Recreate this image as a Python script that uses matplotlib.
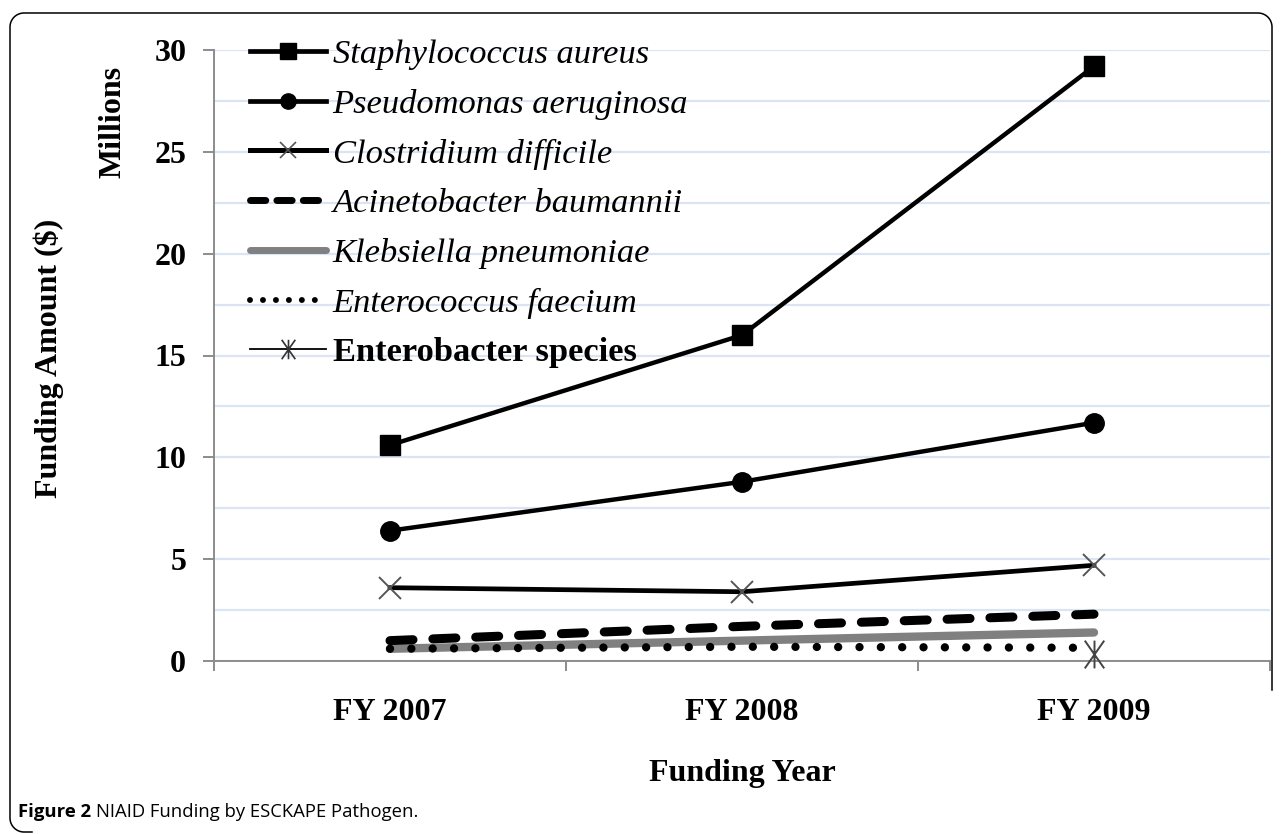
import numpy as np
import matplotlib.pyplot as plt
from matplotlib.lines import Line2D
from matplotlib.path import Path

# funding in millions of dollars
years = ['FY 2007', 'FY 2008', 'FY 2009']
staph = [10.6, 16.0, 29.2]
pseudo = [6.4, 8.8, 11.7]
clost = [3.6, 3.4, 4.7]
acin = [1.0, 1.7, 2.3]
kleb = [0.6, 1.0, 1.4]
entero = [0.6, 0.7, 0.65]
enterob = [np.nan, np.nan, 0.35]

names = ['Staphylococcus aureus', 'Pseudomonas aeruginosa', 'Clostridium difficile',
         'Acinetobacter baumannii', 'Klebsiella pneumoniae', 'Enterococcus faecium',
         'Enterobacter species']

serif = 'Liberation Serif'
plt.rcParams['font.family'] = serif

# Excel-style asterisk: an X with a vertical bar through it
star = Path([(-0.7, -1), (0.7, 1), (-0.7, 1), (0.7, -1), (0, -1), (0, 1)],
            [Path.MOVETO, Path.LINETO, Path.MOVETO, Path.LINETO, Path.MOVETO, Path.LINETO])

W, H = 1282, 834
fig = plt.figure(figsize=(W / 100, H / 100), dpi=100)
ax = fig.add_axes([214 / W, 1 - 661 / H, (1270 - 214) / W, (661 - 50) / H])

x = np.arange(len(years)) + 0.5

ax.plot(x, staph, color='black', lw=3.2, marker='s', ms=14.5, clip_on=False, zorder=5)
ax.plot(x, pseudo, color='black', lw=3.2, marker='o', ms=14, clip_on=False, zorder=5)
ax.plot(x, clost, color='black', lw=3.4, marker='x', ms=16, mec='#555555', mew=1.4,
        clip_on=False, zorder=5)
ax.plot(x, acin, color='black', lw=6.5, dashes=(2.55, 2.2), dash_capstyle='round', zorder=4)
ax.plot(x, kleb, color='#808080', lw=6.0, solid_capstyle='round', zorder=3)
ax.plot(x, entero, color='black', lw=6.0, dashes=(0.001, 2.56), dash_capstyle='round', zorder=4)
ax.plot(x, enterob, color='black', lw=1.2, ls='none', marker=star, ms=20,
        mec='#444444', mew=1.4, clip_on=False, zorder=6)

ax.set_xlim(0, 3)
ax.set_ylim(0, 30)
ax.set_yticks(np.arange(0, 31, 5))
ax.set_yticks(np.arange(0, 30.1, 2.5), minor=True)
ax.yaxis.grid(True, which='both', color='#dbe4f3', lw=1.6)
ax.set_axisbelow(True)
ax.set_xticks([0, 1, 2, 3])
ax.set_xticklabels([])
ax.set_xticks(x, minor=True)
ax.set_xticklabels(years, minor=True)

for s in ['top', 'right']:
    ax.spines[s].set_visible(False)
for s in ['left', 'bottom']:
    ax.spines[s].set_color('#8c8c8c')
    ax.spines[s].set_linewidth(1.4)

ax.tick_params(axis='y', which='major', direction='out', length=8, width=1.4,
               color='#8c8c8c', labelsize=23, pad=12)
ax.tick_params(axis='y', which='minor', length=0)
ax.tick_params(axis='x', which='major', direction='out', length=7, width=1.4, color='#8c8c8c')
ax.tick_params(axis='x', which='minor', length=0, labelsize=23, pad=27)
for lab in ax.get_yticklabels() + ax.get_xticklabels(minor=True):
    lab.set_fontweight('bold')

fig.text(742 / W, 1 - 773 / H, 'Funding Year', ha='center', va='center',
         fontsize=23, fontweight='bold')
fig.text(49 / W, 1 - 358 / H, 'Funding Amount ($)', ha='center', va='center',
         rotation=90, fontsize=23, fontweight='bold')
fig.text(113 / W, 1 - 122 / H, 'Millions', ha='center', va='center',
         rotation=90, fontsize=23, fontweight='bold')

# legend proxies (legend swatches are drawn shorter than the chart's dashes)
handles = [
    Line2D([], [], color='black', lw=3.4, marker='s', ms=11),
    Line2D([], [], color='black', lw=3.4, marker='o', ms=11),
    Line2D([], [], color='black', lw=3.6, marker='x', ms=12, mec='#555555', mew=1.2),
    Line2D([], [], color='black', lw=5.0, dashes=(2.2, 1.6), dash_capstyle='round'),
    Line2D([], [], color='#808080', lw=5.0, solid_capstyle='round'),
    Line2D([], [], color='black', lw=4.3, dashes=(0.001, 2.17), dash_capstyle='round'),
    Line2D([], [], color='black', lw=1.3, marker=star, ms=14, mec='#333333', mew=1.2),
]
leg = fig.legend(handles, names, loc='upper left', bbox_to_anchor=(250 / W, 1 - 39 / H),
                 frameon=False, fontsize=24.8, handlelength=2.2, handletextpad=0.2,
                 labelspacing=0.54, borderpad=0, borderaxespad=0)
for i, t in enumerate(leg.get_texts()):
    if i < 6:
        t.set_fontstyle('italic')
    else:
        t.set_fontweight('bold')

# rounded outer frame (open on the lower right, as in the source figure)
r = 14
L, T, R, B = 10, 13, 1272, 832
ang = np.linspace(0, np.pi / 2, 20)
px = np.concatenate([[R, R], R - r + r * np.cos(ang), L + r - r * np.cos(ang[::-1]),
                     L + r - r * np.cos(ang), [L + r + 8]])
py = np.concatenate([[690, T + r], T + r - r * np.sin(ang), T + r - r * np.sin(ang[::-1]),
                     B - r + r * np.sin(ang), [B]])
fig.add_artist(Line2D(px / W, 1 - py / H, color='black', lw=1.1, transform=fig.transFigure))

# caption
cap_font = 'Open Sans'
t1 = fig.text(18 / W, 1 - 812 / H, 'Figure 2', fontsize=13.3, fontweight='bold',
              family=cap_font, va='center', ha='left')
fig.canvas.draw()
bb = t1.get_window_extent()
fig.text((bb.x1 + 5) / W, 1 - 812 / H, 'NIAID Funding by ESCKAPE Pathogen.', fontsize=13.3,
         family=cap_font, va='center', ha='left')

fig.savefig('out.png', dpi=100)
